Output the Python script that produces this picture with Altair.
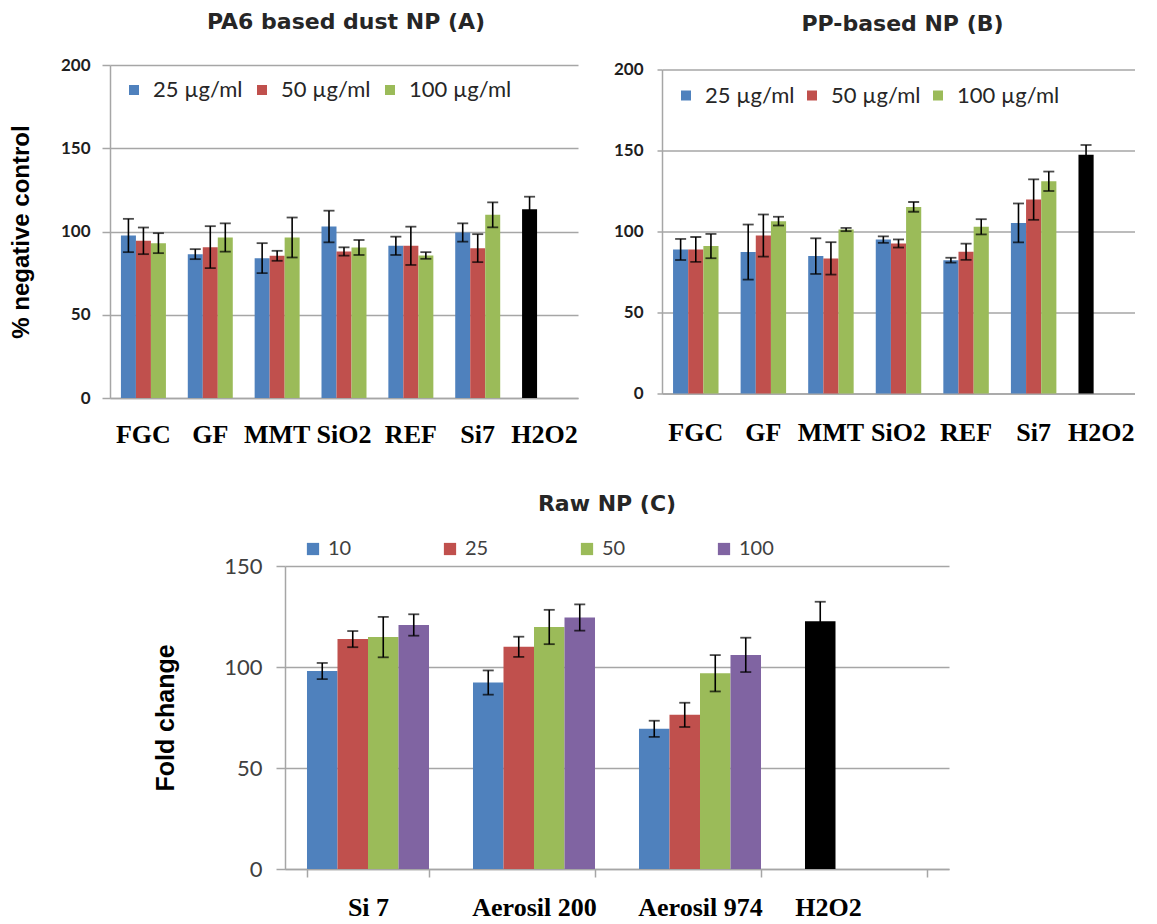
import altair as alt
import pandas as pd

# ---------------- data ----------------
cats_ab = ["FGC", "GF", "MMT", "SiO2", "REF", "Si7", "H2O2"]
conc_ab = ["25 µg/ml", "50 µg/ml", "100 µg/ml"]

# Panel A: PA6 based dust NP
a_25 = [97.6, 86.4, 84.0, 103.0, 91.4, 99.4]
a_25_err = [10.0, 3.0, 9.0, 9.5, 5.5, 5.5]
a_50 = [94.4, 90.6, 85.4, 88.0, 91.4, 90.0]
a_50_err = [8.0, 12.6, 3.0, 2.5, 11.5, 8.4]
a_100 = [93.0, 96.4, 96.4, 90.4, 85.6, 110.0]
a_100_err = [6.0, 8.5, 12.0, 4.5, 2.0, 7.5]
a_h2o2 = 113.4
a_h2o2_err = 7.5

# Panel B: PP-based NP
b_25 = [88.9, 87.3, 84.8, 95.0, 82.3, 105.3]
b_25_err = [6.5, 17.0, 11.0, 2.0, 1.5, 12.0]
b_50 = [88.9, 97.5, 83.4, 92.6, 87.5, 119.7]
b_50_err = [7.7, 13.0, 10.0, 2.5, 5.0, 12.5]
b_100 = [91.0, 106.4, 101.2, 115.2, 102.9, 131.0]
b_100_err = [7.5, 2.7, 1.0, 3.0, 4.7, 6.0]
b_h2o2 = 147.4
b_h2o2_err = 6.0

# Panel C: Raw NP
cats_c = ["Si 7", "Aerosil 200", "Aerosil 974", "H2O2"]
conc_c = ["10", "25", "50", "100"]
c_10 = [98.0, 92.3, 69.4]
c_10_err = [4.0, 6.0, 4.0]
c_25 = [113.8, 110.0, 76.3]
c_25_err = [4.0, 5.0, 6.0]
c_50 = [114.8, 119.8, 96.9]
c_50_err = [10.0, 8.5, 9.0]
c_100 = [120.8, 124.5, 106.0]
c_100_err = [5.3, 6.5, 8.5]
c_h2o2 = 122.7
c_h2o2_err = 9.6

colors_ab = ["#4F81BD", "#C0504D", "#9BBB59"]
colors_c = ["#4F81BD", "#C0504D", "#9BBB59", "#8064A2"]


def build(cats, concs, series, errs, h2o2, h2o2_err):
    rows = []
    for ci, cat in enumerate(cats[:-1]):
        for si, conc in enumerate(concs):
            v = series[si][ci]
            e = errs[si][ci]
            rows.append(dict(cat=cat, slot=conc, key=conc, value=v, lo=v - e, hi=v + e))
    rows.append(dict(cat=cats[-1], slot=concs[0], key="H2O2", value=h2o2,
                     lo=h2o2 - h2o2_err, hi=h2o2 + h2o2_err))
    return pd.DataFrame(rows)


df_a = build(cats_ab, conc_ab, [a_25, a_50, a_100], [a_25_err, a_50_err, a_100_err], a_h2o2, a_h2o2_err)
df_b = build(cats_ab, conc_ab, [b_25, b_50, b_100], [b_25_err, b_50_err, b_100_err], b_h2o2, b_h2o2_err)
df_c = build(cats_c, conc_c, [c_10, c_25, c_50, c_100], [c_10_err, c_25_err, c_50_err, c_100_err],
             c_h2o2, c_h2o2_err)

GRID = "#A6A6A6"


def panel(df, cats, concs, colors, width, height, ymax, yaxis, ytitle, xaxis, legend,
          title, pad_inner):
    x = alt.X("cat:N", sort=cats, title=None,
              scale=alt.Scale(domain=cats, paddingInner=pad_inner, paddingOuter=pad_inner / 2),
              axis=xaxis)
    xo = alt.XOffset("slot:N",
                     scale=alt.Scale(domain=concs, paddingInner=0, paddingOuter=0))
    ysc = alt.Scale(domain=[0, ymax], nice=False, zero=True)
    base = alt.Chart(df)
    bars = base.mark_bar(strokeWidth=0).encode(
        x=x, xOffset=xo,
        y=alt.Y("value:Q", scale=ysc, axis=yaxis, title=ytitle),
        color=alt.Color("key:N",
                        scale=alt.Scale(domain=concs + ["H2O2"], range=colors + ["#000000"]),
                        legend=legend),
    )
    rule = base.mark_rule(color="black", strokeWidth=1.6).encode(
        x=x, xOffset=xo,
        y=alt.Y("lo:Q", scale=ysc, axis=yaxis, title=ytitle), y2="hi:Q")
    cap_hi = base.mark_tick(color="black", thickness=1.8, size=11).encode(
        x=x, xOffset=xo, y=alt.Y("hi:Q", scale=ysc, axis=yaxis, title=ytitle))
    cap_lo = base.mark_tick(color="black", thickness=1.8, size=11).encode(
        x=x, xOffset=xo, y=alt.Y("lo:Q", scale=ysc, axis=yaxis, title=ytitle))
    return alt.layer(bars, rule, cap_hi, cap_lo).properties(
        width=width, height=height, title=title)


def y_axis_ab(with_title, tick_size, label_pad):
    kw = dict(values=[0, 50, 100, 150, 200], grid=True, gridColor=GRID, gridWidth=1.5,
              domainColor=GRID, domainWidth=1.5, tickColor=GRID, tickSize=tick_size, tickWidth=1.5,
              labelFont="Lato", labelFontWeight="bold", labelFontSize=17, labelColor="#1f1f1f",
              labelPadding=label_pad)
    if with_title:
        kw.update(titleFont="Liberation Sans", titleFontSize=24, titleFontWeight="bold",
                  titleColor="#000000", titlePadding=27)
    return alt.Axis(**kw)


def x_axis_ab(pad):
    return alt.Axis(labelAngle=0, ticks=False, grid=False, domainColor=GRID, domainWidth=1.5,
                    labelFont="Liberation Serif", labelFontWeight="bold", labelFontSize=26,
                    labelColor="#000000", labelPadding=pad)


def legend_ab(lx, ly, colpad):
    return alt.Legend(orient="none", legendX=lx, legendY=ly, direction="horizontal", columns=3,
                      title=None, values=conc_ab, symbolType="square", symbolSize=100,
                      symbolStrokeWidth=0, labelFont="Lato", labelFontSize=22,
                      labelColor="#262626", labelOffset=8, columnPadding=colpad)


def title_params(text, offset, dx, size):
    return alt.TitleParams(text=text, font="DejaVu Sans", fontSize=size, fontWeight="bold",
                           color="#262626", frame="group", offset=offset, anchor="middle", dx=dx)


chart_a = panel(df_a, cats_ab, conc_ab, colors_ab, 468, 333, 200,
                y_axis_ab(True, 8, 12), "% negative control", x_axis_ab(23),
                legend_ab(13, 14, 8), title_params("PA6 based dust NP (A)", 22, 2, 22), 0.327)

chart_b = panel(df_b, cats_ab, conc_ab, colors_ab, 473, 324, 200,
                y_axis_ab(False, 5, 14), None, x_axis_ab(26),
                legend_ab(13, 15, 6), title_params("PP-based NP (B)", 25, 4, 22), 0.327)

y_axis_c = alt.Axis(values=[0, 50, 100, 150], grid=True, gridColor=GRID, gridWidth=1.5,
                    domainColor=GRID, domainWidth=1.5, tickColor=GRID, tickSize=9, tickWidth=1.5,
                    labelFont="Lato", labelFontSize=22, labelColor="#404040", labelPadding=14,
                    titleFont="Liberation Sans", titleFontSize=25, titleFontWeight="bold",
                    titleColor="#000000", titlePadding=45)
x_axis_c = alt.Axis(labelAngle=0, ticks=True, tickBand="extent", tickSize=8, tickColor=GRID,
                    tickWidth=1.5, grid=False, domainColor=GRID, domainWidth=1.5,
                    labelFont="Liberation Serif", labelFontWeight="bold", labelFontSize=26,
                    labelColor="#000000", labelPadding=17,
                    labelOffset={"condition": {"test": "datum.label == 'H2O2'", "value": -38},
                                 "value": 0})
legend_c = alt.Legend(orient="none", legendX=18, legendY=-27, direction="horizontal", columns=4,
                      title=None, values=conc_c, symbolType="square", symbolSize=150,
                      symbolStrokeWidth=0, labelFont="Lato", labelFontSize=20,
                      labelColor="#404040", labelOffset=5, columnPadding=88)

chart_c = panel(df_c, cats_c, conc_c, colors_c, 664, 303, 150, y_axis_c, "Fold change",
                x_axis_c, legend_c, title_params("Raw NP (C)", 23, -10, 22), 0.265)

# invisible layout spacer that shifts panel C to the right
spacer_df = pd.DataFrame({"s": [0]})
spacer = alt.Chart(spacer_df).mark_point(opacity=0).encode(
    x=alt.X("s:Q", axis=None), y=alt.Y("s:Q", axis=None)
).properties(width=75, height=10)

top = alt.hconcat(chart_a, chart_b, spacing=84, bounds="flush", center=True).resolve_scale(
    color="independent", xOffset="independent").resolve_legend(color="independent")
bottom = alt.hconcat(spacer, chart_c, spacing=100, bounds="flush").resolve_scale(
    color="independent", xOffset="independent").resolve_legend(color="independent")
chart = alt.vconcat(top, bottom, spacing=46).resolve_scale(
    color="independent", xOffset="independent").resolve_legend(color="independent").properties(
    padding={"left": 1, "top": 3, "right": 0, "bottom": 0}
).configure_view(strokeWidth=0)

chart.save("out.html", embed_options={"renderer": "svg", "actions": False})
